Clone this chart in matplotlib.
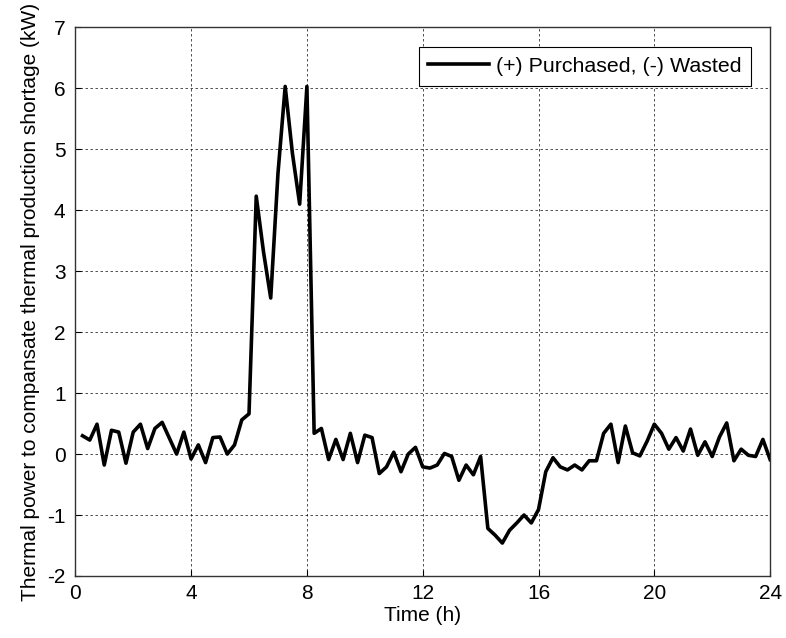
import numpy as np
import matplotlib
matplotlib.use("Agg")
import matplotlib.pyplot as plt

# 15-minute samples over one day
time_h = np.arange(1, 97) * 0.25

shortage_kw = [
    0.30, 0.23, 0.49, -0.18, 0.39, 0.36, -0.15, 0.36,
    0.49, 0.09, 0.42, 0.52, 0.26, 0.00, 0.36, -0.08,
    0.15, -0.14, 0.27, 0.28, 0.00, 0.15, 0.56, 0.66,
    4.23, 3.32, 2.56, 4.60, 6.03, 4.93, 4.10, 6.03,
    0.34, 0.42, -0.09, 0.24, -0.09, 0.34, -0.14, 0.31,
    0.27, -0.32, -0.21, 0.03, -0.29, 0.00, 0.11, -0.21,
    -0.23, -0.18, 0.01, -0.04, -0.43, -0.18, -0.34, -0.04,
    -1.22, -1.33, -1.46, -1.25, -1.13, -1.00, -1.13, -0.91,
    -0.29, -0.06, -0.21, -0.26, -0.18, -0.26, -0.11, -0.11,
    0.34, 0.49, -0.14, 0.46, 0.02, -0.03, 0.21, 0.49,
    0.34, 0.08, 0.27, 0.05, 0.41, -0.02, 0.20, -0.04,
    0.28, 0.51, -0.11, 0.08, -0.02, -0.04, 0.24, -0.09,
]

x_ticks = [0, 4, 8, 12, 16, 20, 24]
y_ticks = [-2, -1, 0, 1, 2, 3, 4, 5, 6, 7]

plt.rcParams['font.family'] = ['Liberation Sans', 'DejaVu Sans']
plt.rcParams['font.size'] = 15
plt.rcParams['axes.unicode_minus'] = False

fig = plt.figure(figsize=(7.86, 6.38), dpi=100)
ax = fig.add_axes([0.0958, 0.0972, 0.884, 0.860])

ax.plot(time_h, shortage_kw, color='black', linewidth=2.6,
        label='(+) Purchased, (-) Wasted')

ax.set_xlim(0, 24)
ax.set_ylim(-2, 7)
ax.set_xticks(x_ticks)
ax.set_yticks(y_ticks)
ax.tick_params(direction='in', length=4, width=0.8, labelsize=15)
ax.tick_params(axis='x', pad=6)
ax.tick_params(axis='y', pad=7)
ax.grid(True, color='black', linestyle=(0, (3, 3)), linewidth=0.6, alpha=0.8)

for sp in ax.spines.values():
    sp.set_color('#333333')
    sp.set_linewidth(1.0)

ax.set_xlabel('Time (h)', fontsize=15, labelpad=2)
ax.set_ylabel('Thermal power to compansate thermal production shortage (kW)',
              fontsize=15, labelpad=5)

leg = ax.legend(loc='upper right', fontsize=15.4, frameon=True, fancybox=False,
                framealpha=1, edgecolor='black', handlelength=2.85,
                borderpad=0.45, handletextpad=0.3,
                bbox_to_anchor=(0.988, 0.983))
leg.get_frame().set_linewidth(0.8)

fig.savefig('out.png', dpi=100, facecolor='white')
